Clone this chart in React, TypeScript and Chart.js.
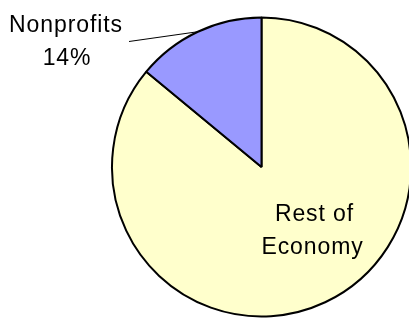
import React, { useEffect, useRef } from "react";
import { Chart, registerables } from "chart.js";

Chart.register(...registerables);

const categories = ["Rest of Economy", "Nonprofits"];
const shares = [86, 14];
const sliceColors = ["#FFFFCC", "#9999FF"];

const labelPlugin = {
  id: "pieLabels",
  afterDraw(chart: any) {
    const ctx = chart.ctx;
    const meta = chart.getDatasetMeta(0);
    const restArc = meta.data[0];
    const npArc = meta.data[1];
    if (!restArc || !npArc) return;
    const { x: cx, y: cy, outerRadius: r } = npArc.getProps(["x", "y", "outerRadius"], true);
    const { startAngle, endAngle } = npArc.getProps(["startAngle", "endAngle"], true);
    const mid = (startAngle + endAngle) / 2;
    ctx.save();
    ctx.fillStyle = "#000";
    ctx.font = "23px 'Liberation Sans', Arial, sans-serif";
    try { (ctx as any).letterSpacing = "0.9px"; } catch (e) {}
    ctx.textAlign = "center";
    ctx.textBaseline = "alphabetic";
    ctx.fillText("Rest of", cx + 53, cy + 54);
    ctx.fillText("Economy", cx + 51, cy + 87);
    ctx.fillText(categories[1], 66, 32);
    ctx.fillText(shares[1] + "%", 67, 65);
    const ex = cx + Math.cos(mid) * r;
    const ey = cy + Math.sin(mid) * r;
    ctx.strokeStyle = "#000";
    ctx.lineWidth = 1;
    ctx.beginPath();
    ctx.moveTo(129, 41.5);
    ctx.lineTo(ex, ey);
    ctx.stroke();
    ctx.restore();
  },
};

export default function App() {
  const ref = useRef<HTMLCanvasElement | null>(null);
  useEffect(() => {
    if (!ref.current) return;
    const chart = new Chart(ref.current, {
      type: "pie",
      data: {
        labels: categories,
        datasets: [
          {
            data: shares,
            backgroundColor: sliceColors,
            borderColor: "#000",
            borderWidth: 2,
          },
        ],
      },
      options: {
        responsive: false,
        animation: false,
        layout: { padding: { left: 111, top: 16, right: 0, bottom: 0 } },
        plugins: {
          legend: { display: false },
          tooltip: { enabled: false },
        },
      },
      plugins: [labelPlugin],
    });
    return () => chart.destroy();
  }, []);
  return (
    <div
      style={{
        position: "fixed",
        left: 0,
        top: 0,
        width: 409,
        height: 318,
        overflow: "hidden",
        background: "#fff",
      }}
    >
      <canvas ref={ref} width={412} height={318} style={{ width: 412, height: 318 }} />
    </div>
  );
}
